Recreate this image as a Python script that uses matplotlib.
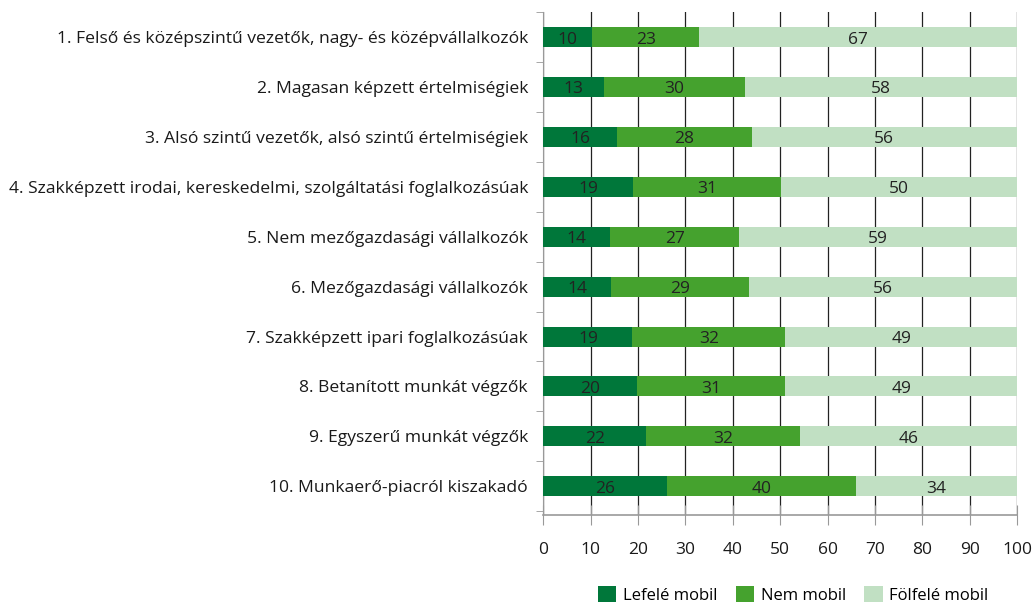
import numpy as np
import matplotlib.pyplot as plt
from matplotlib.patches import Patch

plt.rcParams['font.family'] = ['Open Sans', 'DejaVu Sans']

# Adatok (szazalek)
kategoriak = [
    '1. Felső és középszintű vezetők, nagy- és középvállalkozók',
    '2. Magasan képzett értelmiségiek',
    '3. Alsó szintű vezetők, alsó szintű értelmiségiek',
    '4. Szakképzett irodai, kereskedelmi, szolgáltatási foglalkozásúak',
    '5. Nem mezőgazdasági vállalkozók',
    '6. Mezőgazdasági vállalkozók',
    '7. Szakképzett ipari foglalkozásúak',
    '8. Betanított munkát végzők',
    '9. Egyszerű munkát végzők',
    '10. Munkaerő-piacról kiszakadó',
]
lefele = [10.3, 12.9, 15.6, 19.0, 14.1, 14.3, 18.8, 19.8, 21.7, 26.0]
nem_mobil = [22.6, 29.6, 28.4, 31.2, 27.3, 29.2, 32.3, 31.3, 32.4, 40.0]
folfele = [67.1, 57.5, 56.0, 49.8, 58.6, 56.4, 48.9, 48.9, 45.9, 34.0]

sorozatok = ['Lefelé mobil', 'Nem mobil', 'Fölfelé mobil']
szinek = ['#00773a', '#45a22e', '#c1e0c3']

fig = plt.figure(figsize=(10.33, 6.04), dpi=100)
ax = fig.add_axes([0.526, 0.147, 0.4585, 0.833])

y = np.arange(len(kategoriak))
bal = np.zeros(len(kategoriak))
for ertekek, nev, szin in zip([lefele, nem_mobil, folfele], sorozatok, szinek):
    ertekek = np.array(ertekek)
    ax.barh(y, ertekek, left=bal, height=0.4, color=szin, label=nev, zorder=3)
    for yi, b, v in zip(y, bal, ertekek):
        ax.text(b + v / 2, yi + 0.05, f'{v:.0f}', ha='center', va='center',
                fontsize=12.5, color='#222222', zorder=4)
    bal = bal + ertekek

ax.set_xlim(0, 100)
ax.set_ylim(len(kategoriak) - 0.42, -0.5)
ax.set_xticks(np.arange(0, 101, 10))
ax.xaxis.grid(True, color='#222222', linewidth=0.9, zorder=0)

# y tengely: kategoriahatarokon kis jelolok
ax.set_yticks(y)
ax.set_yticklabels(kategoriak, fontsize=12.6, color='#1a1a1a')
ax.tick_params(axis='y', length=0, pad=11)
ax.set_yticks(np.arange(-0.5, len(kategoriak), 1), minor=True)
ax.tick_params(axis='y', which='minor', length=5, color='#999999')

ax.tick_params(axis='x', direction='inout', length=14, color='#999999',
               labelsize=12.5, pad=12, labelcolor='#1a1a1a')

for s in ['top', 'right']:
    ax.spines[s].set_visible(False)
ax.spines['left'].set_color('#999999')
ax.spines['bottom'].set_color('#999999')
ax.spines['bottom'].set_linewidth(1.2)

kezelok = [Patch(facecolor=c, label=n) for c, n in zip(szinek, sorozatok)]
fig.legend(handles=kezelok, loc='lower center', bbox_to_anchor=(0.768, -0.025),
           ncol=3, frameon=False, fontsize=12, handlelength=1.1,
           handleheight=1.1, handletextpad=0.4, columnspacing=1.1)

fig.savefig('out.png', dpi=100)
